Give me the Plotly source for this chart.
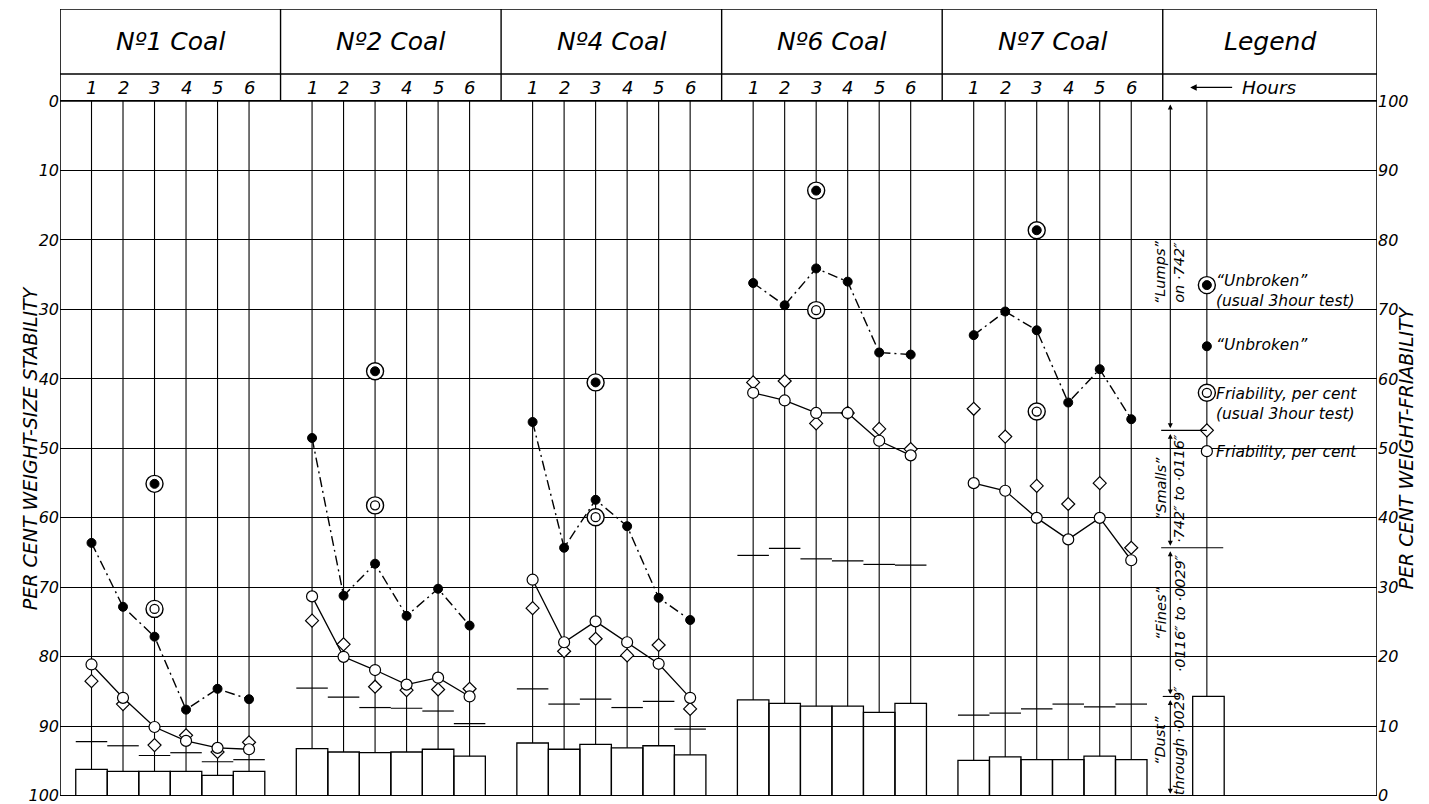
import plotly.graph_objects as go

# ---------------- data (all values in per cent measured from the bottom, i.e. right-hand scale) -------------
coal_names = ["Nº1 Coal", "Nº2 Coal", "Nº4 Coal", "Nº6 Coal", "Nº7 Coal"]
hours = [1, 2, 3, 4, 5, 6]

# "Unbroken" (filled dots, dash-dot line)
unbroken = [
    [36.4, 27.2, 22.9, 12.4, 15.4, 13.9],
    [51.5, 28.8, 33.4, 25.9, 29.8, 24.5],
    [53.8, 35.7, 42.6, 38.8, 28.5, 25.3],
    [73.8, 70.6, 75.9, 74.0, 63.8, 63.5],
    [66.3, 69.7, 67.0, 56.6, 61.4, 54.2],
]
# Friability, per cent (open circles, solid line)
friability = [
    [18.9, 14.1, 9.9, 7.9, 6.9, 6.7],
    [28.7, 20.0, 18.1, 16.0, 17.0, 14.3],
    [31.1, 22.1, 25.1, 22.1, 19.0, 14.1],
    [58.0, 56.9, 55.1, 55.1, 51.1, 49.0],
    [45.0, 43.9, 40.0, 36.9, 40.0, 33.9],
]
# top of "Smalls" (diamonds)
smalls_top = [
    [16.5, 13.2, 7.3, 8.7, 6.3, 7.7],
    [25.2, 21.8, 15.7, 15.2, 15.3, 15.4],
    [27.0, 20.8, 22.6, 20.2, 21.7, 12.5],
    [59.5, 59.7, 53.6, 55.1, 52.8, 49.9],
    [55.7, 51.7, 44.6, 42.0, 45.0, 35.7],
]
# top of "Fines" (short horizontal ticks)
fines_top = [
    [7.8, 7.2, 5.8, 6.2, 4.9, 5.2],
    [15.5, 14.2, 12.7, 12.6, 12.2, 10.4],
    [15.4, 13.2, 13.9, 12.7, 13.6, 9.6],
    [34.6, 35.6, 34.1, 33.8, 33.3, 33.2],
    [11.6, 11.9, 12.5, 13.2, 12.8, 13.2],
]
# "Dust" (bars)
dust = [
    [3.8, 3.5, 3.5, 3.5, 2.95, 3.5],
    [6.8, 6.3, 6.2, 6.3, 6.7, 5.7],
    [7.6, 6.7, 7.4, 6.9, 7.2, 5.9],
    [13.8, 13.3, 12.9, 12.9, 12.0, 13.3],
    [5.1, 5.6, 5.2, 5.2, 5.7, 5.2],
]
# usual 3 hour test (plotted at hour 3)
test_hour = 3
unbroken_3h = [44.9, 61.1, 59.5, 87.1, 81.4]
friability_3h = [26.9, 41.8, 40.1, 69.9, 55.3]

# legend sample values
legend_unbroken_3h = 73.5
legend_unbroken = 64.7
legend_friability_3h = 58.0
legend_smalls = 52.6
legend_friability = 49.6
legend_fines = 35.7
legend_dust = 14.3

tick_vals = [0, 10, 20, 30, 40, 50, 60, 70, 80, 90, 100]
left_tick_text = ["100", "90", "80", "70", "60", "50", "40", "30", "20", "10", "0"]
right_tick_text = ["0", "10", "20", "30", "40", "50", "60", "70", "80", "90", "100"]

# ---------------- layout constants ----------------
PANEL = 7
XMAX = 41.8
YBOT = -0.03
YTOP = 113.24
HDR = 103.9
LEG_X = 36.4        # legend vertical line
LEG_BAR_X = 36.45
BRACKET_X = 35.24
FONT = "DejaVu Sans"
ITAL = dict(family=FONT, color="black", style="italic")


def hx(k, h):
    return PANEL * k + h


fig = go.Figure()

# dust bars
bx, by = [], []
for k in range(5):
    for h, d in zip(hours, dust[k]):
        bx.append(hx(k, h))
        by.append(d)
bx.append(LEG_BAR_X)
by.append(legend_dust)
fig.add_trace(go.Bar(x=bx, y=by, width=1, marker=dict(color="rgba(0,0,0,0)",
                                                       line=dict(color="black", width=1.3)),
                     hoverinfo="skip", showlegend=False))

# hour vertical lines (from 0 at top down to bar top)
vx, vy = [], []
for k in range(5):
    for h, d in zip(hours, dust[k]):
        vx += [hx(k, h), hx(k, h), None]
        vy += [100, d, None]
vx += [LEG_X, LEG_X, None]
vy += [100, legend_dust, None]
fig.add_trace(go.Scatter(x=vx, y=vy, mode="lines", line=dict(color="black", width=1.1),
                         hoverinfo="skip", showlegend=False))

# fines ticks
fx, fy = [], []
for k in range(5):
    for h, f in zip(hours, fines_top[k]):
        fx += [hx(k, h) - 0.5, hx(k, h) + 0.5, None]
        fy += [f, f, None]
fx += [34.95, 36.92, None]
fy += [legend_fines, legend_fines, None]
fig.add_trace(go.Scatter(x=fx, y=fy, mode="lines", line=dict(color="black", width=1.2),
                         hoverinfo="skip", showlegend=False))

# unbroken dash-dot line
ux, uy = [], []
for k in range(5):
    ux += [hx(k, h) for h in hours] + [None]
    uy += unbroken[k] + [None]
fig.add_trace(go.Scatter(x=ux, y=uy, mode="lines", line=dict(color="black", width=1.4, dash="10px,4px,2px,4px"),
                         hoverinfo="skip", showlegend=False))

# friability solid line
rx, ry = [], []
for k in range(5):
    rx += [hx(k, h) for h in hours] + [None]
    ry += friability[k] + [None]
fig.add_trace(go.Scatter(x=rx, y=ry, mode="lines", line=dict(color="black", width=1.3),
                         hoverinfo="skip", showlegend=False))

# diamonds (smalls)
dx = [hx(k, h) for k in range(5) for h in hours] + [LEG_X]
dy = [v for k in range(5) for v in smalls_top[k]] + [legend_smalls]
fig.add_trace(go.Scatter(x=dx, y=dy, mode="markers",
                         marker=dict(symbol="diamond", size=10, color="white", line=dict(color="black", width=1.2)),
                         hoverinfo="skip", showlegend=False))

# friability open circles
cx = [hx(k, h) for k in range(5) for h in hours] + [LEG_X]
cy = [v for k in range(5) for v in friability[k]] + [legend_friability]
fig.add_trace(go.Scatter(x=cx, y=cy, mode="markers",
                         marker=dict(symbol="circle", size=11, color="white", line=dict(color="black", width=1.2)),
                         hoverinfo="skip", showlegend=False))

# unbroken filled dots
ox = [hx(k, h) for k in range(5) for h in hours] + [LEG_X]
oy = [v for k in range(5) for v in unbroken[k]] + [legend_unbroken]
fig.add_trace(go.Scatter(x=ox, y=oy, mode="markers",
                         marker=dict(symbol="circle", size=9, color="black", line=dict(color="black", width=1)),
                         hoverinfo="skip", showlegend=False))

# 3 hour test markers
tx = [hx(k, test_hour) for k in range(5)] + [LEG_X]
t_unb = unbroken_3h + [legend_unbroken_3h]
t_fri = friability_3h + [legend_friability_3h]
fig.add_trace(go.Scatter(x=tx + tx, y=t_unb + t_fri, mode="markers",
                         marker=dict(symbol="circle", size=17, color="white", line=dict(color="black", width=1.4)),
                         hoverinfo="skip", showlegend=False))
fig.add_trace(go.Scatter(x=tx, y=t_fri, mode="markers",
                         marker=dict(symbol="circle", size=9, color="white", line=dict(color="black", width=1.3)),
                         hoverinfo="skip", showlegend=False))
fig.add_trace(go.Scatter(x=tx, y=t_unb, mode="markers",
                         marker=dict(symbol="circle", size=9, color="black", line=dict(color="black", width=1)),
                         hoverinfo="skip", showlegend=False))

# invisible trace to anchor the right axis
fig.add_trace(go.Scatter(x=[0], y=[0], yaxis="y2", mode="markers", marker=dict(opacity=0),
                         hoverinfo="skip", showlegend=False))

# ---------------- shapes ----------------
shapes = []
shapes.append(dict(type="rect", xref="x", yref="y", x0=0, x1=XMAX, y0=0, y1=YTOP,
                   line=dict(color="black", width=1.6)))
shapes.append(dict(type="line", xref="x", yref="y", x0=0, x1=XMAX, y0=HDR, y1=HDR,
                   line=dict(color="black", width=1.5)))
shapes.append(dict(type="line", xref="x", yref="y", x0=0, x1=XMAX, y0=100, y1=100,
                   line=dict(color="black", width=1.5)))
for k in range(1, 6):
    shapes.append(dict(type="line", xref="x", yref="y", x0=PANEL * k, x1=PANEL * k, y0=100, y1=YTOP,
                       line=dict(color="black", width=1.4)))
# legend bracket boundary ticks
shapes.append(dict(type="line", xref="x", yref="y", x0=34.95, x1=LEG_X, y0=legend_smalls, y1=legend_smalls,
                   line=dict(color="black", width=1.1)))
shapes.append(dict(type="line", xref="x", yref="y", x0=35.0, x1=35.5, y0=legend_dust, y1=legend_dust,
                   line=dict(color="black", width=1.1)))

# ---------------- annotations ----------------
ann = []
for k, name in enumerate(coal_names):
    ann.append(dict(x=PANEL * k + 3.5, y=(HDR + YTOP) / 2, xref="x", yref="y", text=name, showarrow=False,
                    font=dict(size=25, **ITAL)))
    for h in hours:
        ann.append(dict(x=hx(k, h), y=(HDR + 100) / 2, xref="x", yref="y", text=str(h), showarrow=False,
                        font=dict(size=18, **ITAL)))
ann.append(dict(x=38.4, y=(HDR + YTOP) / 2, xref="x", yref="y", text="Legend", showarrow=False,
                font=dict(size=25, **ITAL)))
ann.append(dict(x=37.45, y=(HDR + 100) / 2, xref="x", yref="y", text="Hours", showarrow=False,
                xanchor="left", font=dict(size=18.5, **ITAL)))
ann.append(dict(x=35.87, y=(HDR + 100) / 2, ax=37.25, ay=(HDR + 100) / 2, xref="x", yref="y",
                axref="x", ayref="y", text="", showarrow=True, arrowhead=2, arrowsize=1,
                arrowwidth=1.3, arrowcolor="black"))

# bracket (dimension) lines
bounds = [100, legend_smalls, legend_fines, legend_dust, 0]
for hi, lo in zip(bounds[:-1], bounds[1:]):
    ann.append(dict(x=BRACKET_X, y=lo + 0.3, ax=BRACKET_X, ay=hi - 0.3, xref="x", yref="y",
                    axref="x", ayref="y", text="", showarrow=True, arrowhead=2, startarrowhead=2,
                    arrowside="end+start", arrowsize=0.9, startarrowsize=0.9, arrowwidth=1.1,
                    arrowcolor="black"))
bracket_labels = [
    ("“Lumps”<br>on ·742″", 75.4),
    ("“Smalls”<br>·742″ to ·0116″", 44.2),
    ("“Fines”<br>·0116″ to ·0029″", 26.3),
    ("“Dust”<br>through ·0029″", 7.9),
]
for txt, yv in bracket_labels:
    ann.append(dict(x=BRACKET_X, y=yv, xref="x", yref="y", text=txt, showarrow=False, textangle=-90,
                    font=dict(size=14.5, **ITAL)))

legend_texts = [
    ("“Unbroken”<br>(usual 3hour test)", 72.6),
    ("“Unbroken”", 64.9),
    ("Friability, per cent<br>(usual 3hour test)", 56.35),
    ("Friability, per cent", 49.5),
]
for txt, yv in legend_texts:
    ann.append(dict(x=36.62, y=yv, xref="x", yref="y", text=txt, showarrow=False, xanchor="left",
                    align="left", font=dict(size=15.5, **ITAL)))

ann.append(dict(x=-0.032, y=50, xref="paper", yref="y", text="PER CENT WEIGHT-SIZE STABILITY",
                showarrow=False, textangle=-90, font=dict(size=19, **ITAL)))
ann.append(dict(x=1.0319, y=50, xref="paper", yref="y", text="PER CENT WEIGHT-FRIABILITY",
                showarrow=False, textangle=-90, font=dict(size=19, **ITAL)))

fig.update_layout(
    width=1429, height=804,
    margin=dict(l=60, r=52, t=9, b=8, autoexpand=False),
    paper_bgcolor="white", plot_bgcolor="white",
    barmode="overlay", showlegend=False,
    xaxis=dict(range=[0, XMAX], visible=False, fixedrange=True),
    yaxis=dict(range=[YBOT, YTOP], tickvals=tick_vals, ticktext=left_tick_text, showgrid=True,
               gridcolor="black", gridwidth=1.3, zeroline=False, showline=False, ticks="",
               automargin=False, ticklabeloverflow="allow", tickfont=dict(size=16, **ITAL)),
    yaxis2=dict(range=[YBOT, YTOP], overlaying="y", side="right", tickvals=tick_vals, ticktext=right_tick_text,
                showgrid=False, zeroline=False, showline=False, ticks="", automargin=False,
                ticklabeloverflow="allow", tickfont=dict(size=16, **ITAL)),
    shapes=shapes, annotations=ann,
)

fig.write_html("out.html", config={"displayModeBar": False},
               post_script="document.body.style.margin='0';document.body.style.overflow='hidden';")
